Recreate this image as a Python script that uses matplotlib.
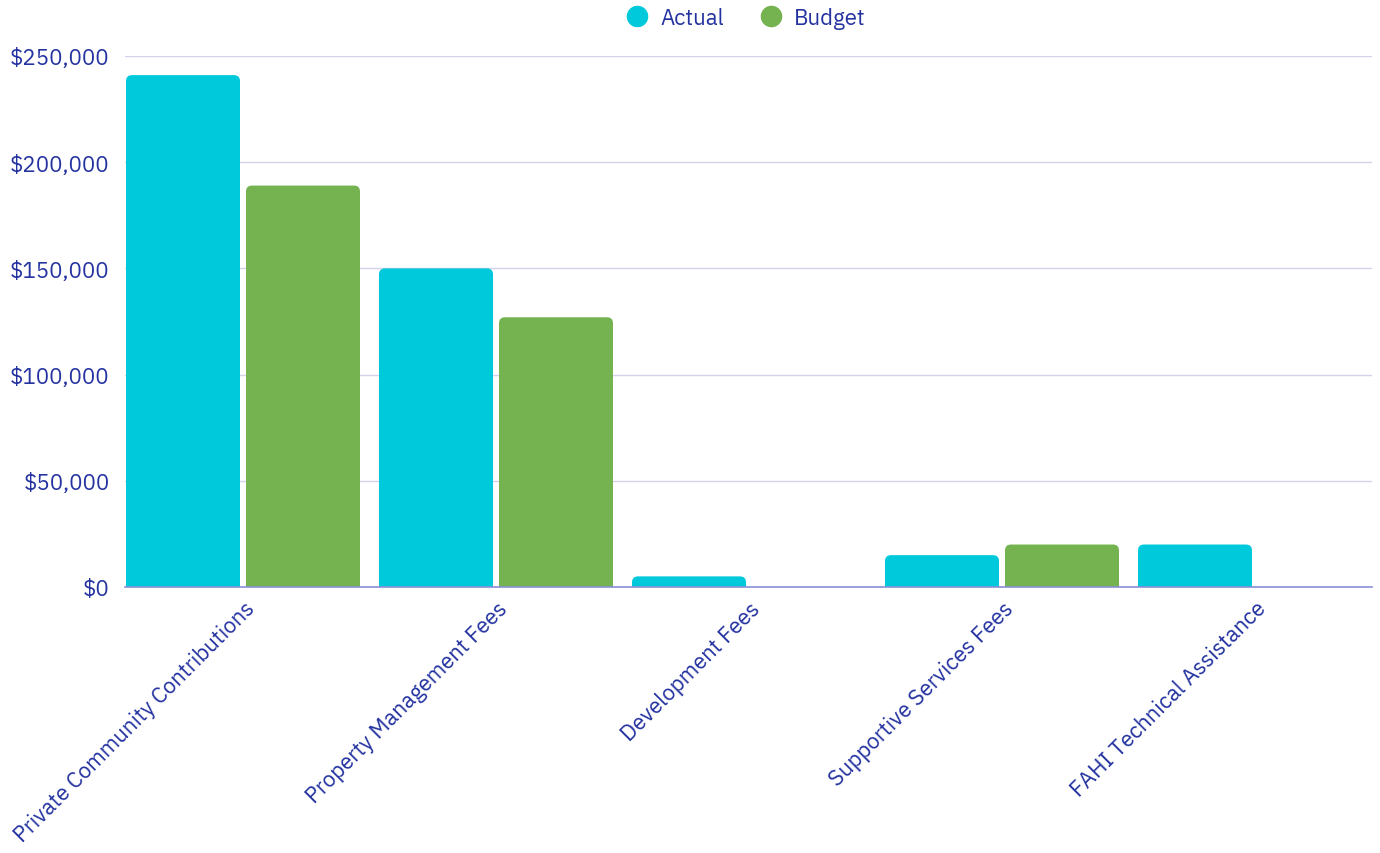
import matplotlib
matplotlib.use("Agg")
import matplotlib.pyplot as plt
from matplotlib.patches import FancyBboxPatch
from matplotlib.lines import Line2D
from matplotlib.ticker import FuncFormatter

categories = ["Private Community Contributions", "Property Management Fees",
              "Development Fees", "Supportive Services Fees", "FAHI Technical Assistance"]
actual = [241000, 150000, 5000, 15000, 20000]
budget = [189000, 127000, 0, 20000, 0]
series_names = ["Actual", "Budget"]
yticks = [0, 50000, 100000, 150000, 200000, 250000]

c_actual = "#00C9DB"
c_budget = "#74B350"
txt = "#2433A0"
FONT = ["IBM Plex Sans", "Noto Sans", "DejaVu Sans"]
plt.rcParams["font.family"] = FONT
FS = 16

W, H = 1380, 854
fig = plt.figure(figsize=(W / 100, H / 100), dpi=100)
L, R, T, B = 125, 1372, 57, 588
ax = fig.add_axes([L / W, 1 - B / H, (R - L) / W, (B - T) / H])

pitch_px = 253.0
bw = 114 / pitch_px
gap = 6 / pitch_px
off = bw / 2 + gap / 2
x_left = -off - bw / 2 - 1 / pitch_px
x_right = off + bw / 2 + (len(categories) - 1)
ax.set_xlim(x_left, x_right)
ax.set_ylim(0, 250000)

xpp = (x_right - x_left) / (R - L)
ypp = 250000 / (B - T)
r_px = 6
rs = r_px * xpp
aspect = ypp / xpp

for i in range(len(categories)):
    for val, col, dx in ((actual[i], c_actual, -off), (budget[i], c_budget, off)):
        if val <= 0:
            continue
        x0 = i + dx - bw / 2
        y0 = -r_px * 2 * ypp
        p = FancyBboxPatch((x0, y0), bw, val - y0,
                           boxstyle=f"round,pad=0,rounding_size={rs}",
                           mutation_aspect=aspect, facecolor=col,
                           edgecolor="none", zorder=3, clip_on=True)
        ax.add_patch(p)

ax.set_yticks(yticks)
ax.yaxis.set_major_formatter(FuncFormatter(lambda v, p: f"${int(v):,}"))
ax.grid(axis="y", color="#D3D3EA", linewidth=1, zorder=0)
ax.set_axisbelow(True)
for s in ["top", "right", "left"]:
    ax.spines[s].set_visible(False)
ax.spines["bottom"].set_color("#8A8FD6")
ax.spines["bottom"].set_linewidth(1.2)
ax.spines["bottom"].set_zorder(4)
ax.tick_params(axis="y", length=0, pad=11, labelsize=FS, labelcolor=txt)
ax.tick_params(axis="x", length=0)
ax.set_xticks(range(len(categories)))
ax.set_xticklabels([])

for i, c in enumerate(categories):
    ax.annotate(c, xy=(i, 0), xycoords="data", xytext=(6, -13), textcoords="offset points",
                rotation=45, rotation_mode="anchor", ha="right", va="center",
                fontsize=FS, color=txt, annotation_clip=False)

handles = [Line2D([], [], marker="o", linestyle="none", markersize=14.5,
                  markerfacecolor=c, markeredgecolor=c) for c in (c_actual, c_budget)]
fig.legend(handles, series_names, loc="center", bbox_to_anchor=(746 / W, 1 - 19 / H),
           ncol=2, frameon=False, fontsize=FS, labelcolor=txt, handletextpad=0.55,
           columnspacing=1.6, handlelength=1.0)

fig.savefig("out.png", dpi=100)
